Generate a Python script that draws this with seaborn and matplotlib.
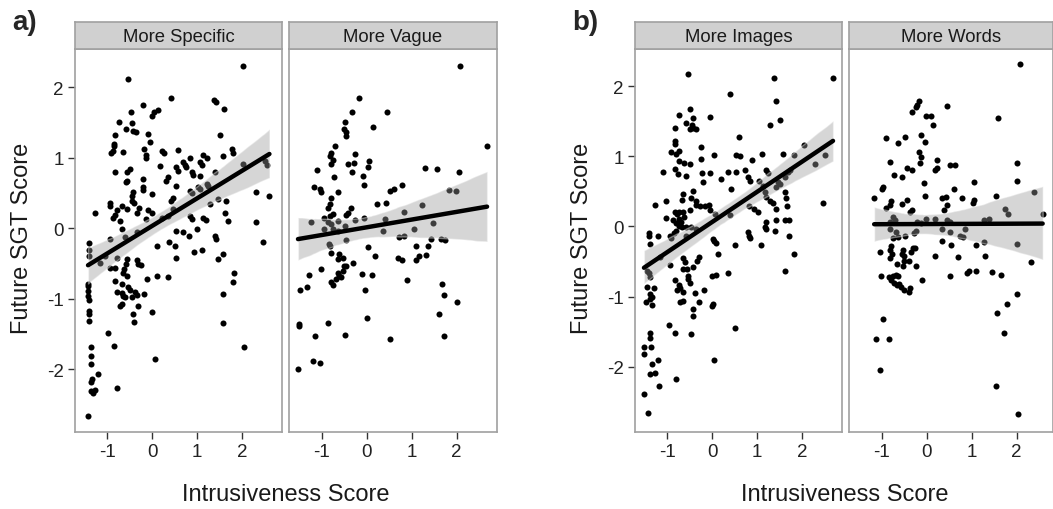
import pandas as pd
import seaborn as sns
import matplotlib
matplotlib.use("Agg")
import matplotlib.pyplot as plt
from matplotlib.collections import PolyCollection

# (intrusiveness score, future SGT score) pairs
specific_pts = [
    (2.03, 2.30), (-0.53, 2.12), (0.41, 1.84), (1.38, 1.81), (1.42, 1.79), (1.60, 1.69), (-0.20, 1.74),
    (-0.48, 1.65), (0.13, 1.67), (0.04, 1.64), (-0.01, 1.59), (-0.74, 1.51), (-0.44, 1.49), (-0.59, 1.41),
    (-0.42, 1.38), (-0.36, 1.37), (-0.09, 1.34), (1.51, 1.32), (-0.82, 1.32), (-0.04, 1.22), (-0.85, 1.20),
    (-0.85, 1.17), (-0.18, 1.12), (-0.88, 1.10), (-0.91, 1.06), (-0.65, 1.08), (0.22, 1.10), (0.26, 1.06),
    (0.58, 1.11), (1.77, 1.12), (1.80, 1.06), (1.57, 1.03), (-0.13, 1.04), (-0.13, 1.00), (1.14, 1.04),
    (1.21, 1.00), (0.84, 0.99), (0.69, 0.94), (0.73, 0.90), (0.76, 0.86), (1.06, 0.94), (1.11, 0.90),
    (2.03, 0.91), (2.51, 0.95), (2.55, 0.90), (0.17, 0.88), (0.54, 0.86), (0.58, 0.81), (-0.50, 0.84),
    (-0.57, 0.80), (-0.83, 0.79), (0.88, 0.79), (0.91, 0.75), (1.06, 0.74), (1.40, 0.80), (-0.57, 0.67),
    (-0.59, 0.65), (-0.20, 0.70), (0.36, 0.72), (0.30, 0.67), (1.21, 0.62), (1.25, 0.60), (1.02, 0.58),
    (1.06, 0.55), (0.54, 0.60), (-0.20, 0.58), (-0.20, 0.54), (0.84, 0.53), (0.88, 0.50), (-0.42, 0.51),
    (-0.44, 0.46), (-0.01, 0.48), (2.32, 0.51), (2.61, 0.45), (0.47, 0.43), (0.41, 0.39), (1.47, 0.41),
    (1.64, 0.39), (-0.46, 0.39), (-0.41, 0.35), (-0.94, 0.35), (-0.94, 0.32), (-0.68, 0.32), (1.28, 0.34),
    (-1.28, 0.22), (-0.79, 0.26), (-0.57, 0.27), (-0.35, 0.22), (-0.29, 0.28), (-0.09, 0.26), (-0.01, 0.22),
    (0.36, 0.17), (0.47, 0.27), (0.21, 0.15), (0.84, 0.17), (0.88, 0.13), (1.14, 0.15), (1.20, 0.12),
    (1.62, 0.22), (1.69, 0.10), (2.32, 0.09), (-0.83, 0.18), (-0.87, 0.15), (-0.72, 0.10), (-0.68, -0.01),
    (-0.13, 0.13), (0.54, -0.04), (0.69, -0.06), (-0.35, -0.06), (-0.94, -0.15), (-0.61, -0.12), (0.82, -0.11),
    (1.00, -0.01), (1.40, -0.11), (1.42, -0.16), (2.46, -0.19),
    (-1.41, -0.21), (-1.41, -0.31), (-1.41, -0.40), (0.10, -0.26), (0.38, -0.20), (0.50, -0.25), (0.52, -0.42),
    (0.94, -0.34), (1.10, -0.31), (1.47, -0.44), (1.58, -0.37), (-0.79, -0.42), (-0.57, -0.44), (-0.59, -0.51),
    (-0.62, -0.58), (-0.65, -0.63), (-0.35, -0.45), (-0.31, -0.51), (-0.24, -0.52), (-0.94, -0.57), (-0.83, -0.57),
    (-0.57, -0.68), (-0.83, -0.75), (-1.42, -0.79), (-1.42, -0.82), (-1.42, -0.89), (-1.42, -0.96), (-1.40, -1.02),
    (-1.41, -1.17), (-1.40, -1.21), (-1.41, -1.31), (-0.68, -0.79), (-0.53, -0.84), (-0.49, -0.87), (-0.79, -0.90),
    (-0.68, -0.92), (-0.65, -0.96), (-0.61, -0.98), (-0.39, -0.90), (-0.35, -0.95), (-0.46, -0.97), (-0.18, -0.94),
    (-0.12, -0.72), (0.10, -0.68), (0.36, -0.69), (-0.72, -1.10), (-0.68, -1.07), (-0.31, -1.11), (-0.43, -1.22),
    (-0.40, -1.33), (0.00, -1.19), (1.58, -0.94), (1.58, -1.34), (1.83, -0.64), (1.80, -0.76), (-1.05, -0.40),
    (-1.16, -0.50),
    (-0.98, -1.49), (-0.85, -1.67), (-1.37, -1.69), (-1.37, -1.81), (-1.37, -1.93), (-1.20, -2.07), (-1.35, -2.14),
    (-1.37, -2.18), (-1.37, -2.31), (-1.28, -2.29), (-1.33, -2.33), (-0.79, -2.27), (0.06, -1.85), (2.04, -1.69),
    (-1.43, -2.66),
]

vague_pts = [
    (2.08, 2.30), (-0.18, 1.84), (-0.33, 1.64), (0.46, 1.65), (-0.49, 1.51), (-0.50, 1.40), (-0.47, 1.36),
    (-0.45, 1.31), (0.14, 1.44), (2.68, 1.16), (-0.70, 1.17), (-0.79, 1.06), (-0.82, 1.03), (-0.75, 0.96),
    (-0.79, 0.91), (-0.25, 1.05), (-0.29, 0.93), (-0.42, 0.91), (0.05, 0.95), (0.03, 0.86), (-1.11, 0.82),
    (-0.32, 0.80), (-0.08, 0.74), (-0.73, 0.73), (1.29, 0.85), (1.57, 0.84), (2.05, 0.80), (-0.06, 0.61),
    (-1.18, 0.58), (-1.04, 0.55), (-1.01, 0.51), (-0.79, 0.43), (-0.64, 0.51), (0.51, 0.52), (0.60, 0.56),
    (0.79, 0.61), (1.83, 0.54), (1.98, 0.52), (0.22, 0.34), (0.42, 0.35), (-0.82, 0.34), (-0.86, 0.29),
    (-0.36, 0.28), (-0.42, 0.22), (-0.45, 0.18), (1.24, 0.33), (0.82, 0.23), (-1.23, 0.09), (-0.94, 0.15),
    (-0.82, 0.17), (-0.75, 0.20), (-0.86, 0.09), (-0.79, 0.06), (-0.64, 0.10), (-0.25, 0.12), (-0.06, 0.14),
    (0.40, 0.13), (1.48, 0.07), (1.05, -0.01), (0.36, -0.04), (-0.96, -0.01), (-0.75, -0.01), (-0.64, -0.04),
    (-0.49, 0.03), (0.73, -0.13), (0.82, -0.11), (1.44, -0.16), (1.66, -0.15), (1.75, -0.17), (-0.45, -0.17),
    (-0.81, -0.26), (-0.83, -0.23), (0.02, -0.27), (1.10, -0.26), (1.36, -0.25), (-0.79, -0.35), (-0.61, -0.37),
    (-0.65, -0.44), (-0.53, -0.42), (-0.50, -0.53), (-0.46, -0.53), (-0.53, -0.61), (-0.31, -0.50), (0.19, -0.40),
    (0.69, -0.43), (0.78, -0.45), (1.10, -0.45), (1.16, -0.40), (1.31, -0.38), (-1.02, -0.58), (-1.29, -0.67),
    (-0.65, -0.63), (-0.61, -0.68), (-0.68, -0.72), (-0.79, -0.76), (-0.76, -0.81), (-0.57, -0.69), (-0.11, -0.65),
    (0.11, -0.67), (-1.34, -0.83), (-1.48, -0.87), (-0.03, -0.87), (0.89, -0.73), (1.68, -0.79), (1.71, -0.95),
    (2.00, -1.04), (1.62, -1.21), (0.01, -1.27), (-1.51, -1.36), (-1.51, -1.39), (-0.87, -1.35),
    (-1.14, -1.53), (-0.49, -1.51), (0.51, -1.57), (1.72, -1.53), (-1.20, -1.88), (-1.05, -1.91), (-1.53, -2.00),
]

images_pts = [
    (-0.54, 2.18), (1.37, 2.11), (2.69, 2.12), (0.40, 1.89), (1.43, 1.79), (-0.49, 1.68), (-0.74, 1.59),
    (-0.04, 1.56), (-0.43, 1.54), (-0.59, 1.47), (-0.45, 1.45), (-0.50, 1.39), (-0.42, 1.41), (-0.36, 1.39),
    (-0.82, 1.40), (1.50, 1.52), (1.29, 1.44), (0.59, 1.28), (-0.84, 1.22), (-0.84, 1.17), (-0.24, 1.13),
    (2.04, 1.16), (-0.91, 1.06), (-0.80, 1.03), (-0.73, 1.08), (0.05, 1.02), (0.53, 1.02), (0.61, 1.01),
    (1.11, 1.04), (1.57, 1.03), (1.82, 1.02), (2.52, 1.02), (-0.73, 0.94), (-0.62, 0.91), (-0.50, 0.89),
    (-0.26, 0.96), (0.89, 0.95), (2.29, 0.89), (-0.84, 0.82), (-0.76, 0.75), (-0.58, 0.72), (-1.10, 0.77),
    (-0.22, 0.76), (-0.06, 0.76), (0.35, 0.78), (0.53, 0.77), (0.72, 0.80), (1.19, 0.80), (1.24, 0.76),
    (1.69, 0.77), (1.74, 0.80), (0.79, 0.70), (0.83, 0.65), (-0.21, 0.64), (0.20, 0.68), (1.05, 0.65),
    (1.13, 0.58), (1.46, 0.64), (1.50, 0.61), (1.41, 0.56), (1.61, 0.71), (0.42, 0.54), (-0.43, 0.51),
    (-0.64, 0.46), (-0.67, 0.38), (-0.47, 0.41), (-0.37, 0.37), (1.17, 0.49), (1.20, 0.42), (1.61, 0.49),
    (1.65, 0.40), (2.46, 0.34), (-1.02, 0.37), (-1.28, 0.30), (-0.36, 0.30), (-0.28, 0.29), (-0.16, 0.29),
    (-0.07, 0.31), (-0.04, 0.24), (1.28, 0.37), (1.35, 0.34), (0.82, 0.29), (1.43, 0.25), (1.67, 0.29),
    (-0.84, 0.21), (-0.79, 0.18), (-0.74, 0.20), (-0.65, 0.20), (-0.50, 0.24), (0.94, 0.25), (1.02, 0.21),
    (0.07, 0.18), (-1.02, 0.12), (-0.88, 0.09), (-0.80, 0.05), (-0.62, 0.13), (-0.73, 0.11), (-0.69, 0.06),
    (0.39, 0.16), (1.20, 0.06), (1.43, 0.09), (1.61, 0.09), (1.71, 0.09), (-0.74, 0.01), (-0.67, -0.01),
    (-0.59, -0.01), (-0.47, -0.01), (-0.37, -0.03), (-0.80, -0.06), (-0.85, -0.10), (1.17, -0.01), (1.19, -0.03),
    (1.39, -0.06), (-1.40, -0.10), (-1.40, -0.14), (-1.21, -0.14), (-0.95, -0.14), (-0.91, -0.17), (0.79, -0.08),
    (0.82, -0.14), (0.83, -0.17), (1.72, -0.14), (0.01, -0.18), (-0.58, -0.14),
    (-1.38, -0.25), (0.03, -0.20), (0.09, -0.24), (0.51, -0.27), (1.09, -0.26), (1.83, -0.39), (1.63, -0.64),
    (-1.17, -0.44), (-0.95, -0.55), (-0.64, -0.45), (-0.60, -0.51), (-0.65, -0.60), (-0.56, -0.61), (-0.43, -0.58),
    (-0.33, -0.49), (-0.30, -0.44), (0.13, -0.39), (0.35, -0.66), (0.00, -0.71), (0.09, -0.69), (-0.53, -0.70),
    (-0.53, -0.75), (-0.50, -0.80), (-0.82, -0.77), (-1.46, -0.64), (-1.40, -0.66), (-1.38, -0.72), (-1.46, -0.87),
    (-1.29, -0.88), (-1.38, -0.96), (-1.34, -1.00), (-1.38, -1.03), (-1.48, -1.08), (-1.34, -1.12), (-0.75, -0.84),
    (-0.71, -0.88), (-0.65, -0.93), (-0.79, -0.90), (-0.38, -0.95), (-0.19, -0.90), (-0.71, -1.08), (-0.64, -1.06),
    (-0.30, -1.08), (-0.43, -1.18), (-0.42, -1.27), (0.01, -1.10), (-0.01, -1.14), (-0.97, -1.41), (0.51, -1.45),
    (-0.84, -1.52), (-0.47, -1.53), (-1.38, -1.52), (-1.38, -1.59), (-1.36, -1.72), (-1.52, -1.72), (-1.52, -1.82),
    (-1.20, -1.90), (-1.34, -1.96), (-1.38, -2.10), (-1.28, -2.09), (-1.19, -2.27), (-0.80, -2.17), (0.05, -1.90),
    (-1.52, -2.39), (-1.43, -2.66),
]

words_pts = [
    (2.08, 2.31), (-0.18, 1.79), (-0.22, 1.73), (-0.23, 1.71), (-0.33, 1.63), (0.46, 1.72), (-0.01, 1.58),
    (0.10, 1.58), (0.14, 1.44), (1.59, 1.54), (-0.90, 1.26), (-0.64, 1.19), (-0.48, 1.27), (-0.12, 1.31),
    (-0.04, 1.20), (-0.18, 1.06), (-0.13, 0.99), (-0.16, 0.91), (0.23, 0.95), (-0.82, 0.92), (-0.43, 0.83),
    (-0.32, 0.80), (0.18, 0.80), (0.23, 0.83), (0.51, 0.87), (0.64, 0.87), (2.00, 0.91), (-0.73, 0.73),
    (-0.55, 0.71), (1.05, 0.64), (2.00, 0.65), (-0.06, 0.62), (-0.97, 0.56), (-0.99, 0.53), (0.60, 0.53),
    (2.39, 0.49), (-1.17, 0.40), (-0.04, 0.44), (0.33, 0.40), (0.42, 0.42), (0.79, 0.41), (1.06, 0.38),
    (1.03, 0.34), (1.55, 0.43), (-0.79, 0.36), (-0.82, 0.31), (-0.44, 0.38), (-0.56, 0.32), (0.44, 0.30),
    (0.39, 0.24), (-0.90, 0.26), (-0.32, 0.23), (-0.38, 0.20), (1.75, 0.25), (1.81, 0.18), (2.58, 0.18),
    (-0.75, 0.13), (-0.71, 0.09), (-0.82, 0.07), (-0.22, 0.07), (-0.13, 0.05), (-0.02, 0.11), (0.18, 0.11),
    (0.45, 0.09), (0.51, 0.06), (1.27, 0.09), (1.39, 0.11), (-0.82, -0.03), (-0.68, -0.08), (-0.23, -0.06),
    (-0.29, -0.10), (0.33, -0.04), (0.51, -0.08), (0.85, -0.04), (0.73, -0.14), (0.81, -0.15), (-0.75, -0.17),
    (-0.64, -0.15), (-0.49, -0.14),
    (0.34, -0.20), (0.53, -0.26), (1.10, -0.27), (1.27, -0.22), (2.01, -0.25), (-1.05, -0.36), (-0.79, -0.28),
    (-0.81, -0.34), (-0.78, -0.39), (-0.81, -0.45), (-0.53, -0.34), (-0.56, -0.39), (-0.50, -0.42), (-0.51, -0.49),
    (-0.53, -0.56), (-0.39, -0.49), (-0.31, -0.30), (-0.26, -0.30), (-0.35, -0.37), (-0.66, -0.53), (-0.24, -0.57),
    (0.19, -0.42), (0.69, -0.44), (1.30, -0.42), (2.32, -0.51), (-1.02, -0.71), (-0.83, -0.72), (-0.76, -0.70),
    (-0.68, -0.69), (-0.65, -0.71), (-0.79, -0.77), (-0.72, -0.80), (-0.66, -0.83), (-0.61, -0.82), (-0.57, -0.87),
    (-0.50, -0.90), (-0.39, -0.94), (-0.37, -0.88), (-0.11, -0.76), (0.52, -0.70), (0.89, -0.66), (0.93, -0.63),
    (1.10, -0.63), (1.45, -0.65), (1.66, -0.69), (2.01, -0.96), (1.79, -1.10), (1.57, -1.23), (-0.98, -1.32),
    (-1.14, -1.61), (-0.85, -1.60), (1.72, -1.52), (-1.05, -2.04), (1.55, -2.28), (2.02, -2.68),
]

facet_titles = ["More Specific", "More Vague", "More Images", "More Words"]
panel_letters = ["a)", "b)"]
x_ticks = [-1, 0, 1, 2]
y_ticks = [-2, -1, 0, 1, 2]

sns.set_theme(style="white")
plt.rcParams["font.family"] = ["Liberation Sans", "DejaVu Sans"]
plt.rcParams["axes.unicode_minus"] = False

W, H = 1053, 510
TOP, BOTTOM = 50, 433
fig = plt.figure(figsize=(W / 100, H / 100), dpi=100)


def box(left, top, width, height):
    return [left / W, 1 - (top + height) / H, width / W, height / H]


def facet(left, width, pts, title, xlim, ylim, show_y):
    df = pd.DataFrame(pts, columns=["intrusiveness", "sgt"])
    ax = fig.add_axes(box(left, TOP, width, BOTTOM - TOP))
    sns.regplot(data=df, x="intrusiveness", y="sgt", ax=ax, color="black",
                scatter_kws=dict(s=19, alpha=1, linewidths=0),
                line_kws=dict(linewidth=3.2), n_boot=1000, seed=7)
    # grey ribbon over the points, like ggplot's geom_smooth
    for coll in ax.collections:
        if isinstance(coll, PolyCollection):
            coll.set_facecolor("#999999")
            coll.set_alpha(0.4)
    ax.set_xlim(*xlim)
    ax.set_ylim(*ylim)
    ax.set_xticks(x_ticks)
    ax.set_yticks(y_ticks)
    ax.set_xlabel("")
    ax.set_ylabel("")
    ax.tick_params(axis="both", length=5, width=1, color="#333333",
                   labelsize=13.5, labelcolor="#222222", pad=3,
                   bottom=True, left=show_y, labelleft=show_y)
    for sp in ax.spines.values():
        sp.set_color("#A0A0A0")
        sp.set_linewidth(1.2)

    strip = fig.add_axes(box(left, 23, width, TOP - 23))
    strip.set_facecolor("#D0D0D0")
    strip.set_xticks([])
    strip.set_yticks([])
    for sp in strip.spines.values():
        sp.set_color("#A0A0A0")
        sp.set_linewidth(1.2)
    strip.text(0.5, 0.46, title, ha="center", va="center", fontsize=13.3,
               color="#1A1A1A", transform=strip.transAxes)
    return ax


ylim_a = (-2.89, 2.54)
ylim_b = (-2.93, 2.53)
facet(75, 207, specific_pts, facet_titles[0], (-1.72, 2.89), ylim_a, True)
facet(289, 207.5, vague_pts, facet_titles[1], (-1.73, 2.89), ylim_a, False)
facet(635, 207, images_pts, facet_titles[2], (-1.72, 2.89), ylim_b, True)
facet(849, 204, words_pts, facet_titles[3], (-1.73, 2.81), ylim_b, False)

for letter, lx in zip(panel_letters, [12, 572]):
    fig.text(lx / W, 1 - 23 / H, letter, fontsize=20, fontweight="bold",
             ha="left", va="center")
for ycx in [22, 582]:
    fig.text(ycx / W, 1 - 238 / H, "Future SGT Score", rotation=90,
             fontsize=17, ha="center", va="center", color="#1A1A1A")
for xcx in [286, 845]:
    fig.text(xcx / W, 1 - 495 / H, "Intrusiveness Score", fontsize=17,
             ha="center", va="center", color="#1A1A1A")

fig.savefig("out.png", dpi=100)
